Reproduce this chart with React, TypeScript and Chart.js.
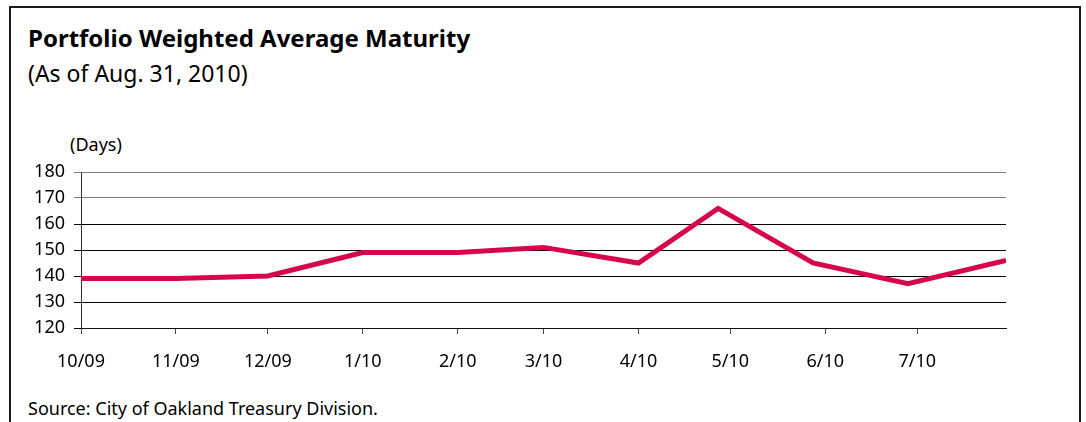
import React, { useEffect, useRef } from "react";
import { Chart, registerables } from "chart.js";

Chart.register(...registerables);

// ---- Data ----
const pointDates = [
  "2009-10-01", "2009-11-01", "2009-12-01", "2010-01-01", "2010-02-01", "2010-03-01",
  "2010-04-01", "2010-04-27", "2010-05-28", "2010-06-28", "2010-07-30",
];
const maturityDays = [139, 139, 140, 149, 149, 151, 145, 166, 145, 137, 146];
const tickDates = [
  "2009-10-01", "2009-11-01", "2009-12-01", "2010-01-01", "2010-02-01",
  "2010-03-01", "2010-04-01", "2010-05-01", "2010-06-01", "2010-07-01",
];
const tickLabels = ["10/09", "11/09", "12/09", "1/10", "2/10", "3/10", "4/10", "5/10", "6/10", "7/10"];
const yMin = 120;
const yMax = 180;
const yStep = 10;

const FONT = '"Noto Sans", sans-serif';
const LINE_COLOR = "#D5064B";

const dayIndex = (s: string) =>
  Math.round((Date.parse(s) - Date.parse(pointDates[0])) / 86400000);

export default function App() {
  const canvasRef = useRef<HTMLCanvasElement | null>(null);

  useEffect(() => {
    if (!canvasRef.current) return;
    const tickValues = tickDates.map(dayIndex);
    const chart = new Chart(canvasRef.current, {
      type: "line",
      data: {
        datasets: [
          {
            data: pointDates.map((d, i) => ({ x: dayIndex(d), y: maturityDays[i] })),
            borderColor: LINE_COLOR,
            backgroundColor: LINE_COLOR,
            borderWidth: 5,
            pointRadius: 0,
            tension: 0,
            borderJoinStyle: "miter",
            fill: false,
          },
        ],
      },
      options: {
        responsive: false,
        animation: false,
        devicePixelRatio: 1,
        layout: { padding: { top: 22, right: 80, left: 0, bottom: 0 } },
        plugins: {
          legend: { display: false },
          tooltip: { enabled: false },
          title: { display: false },
        },
        scales: {
          x: {
            type: "linear",
            min: 0,
            max: dayIndex(pointDates[pointDates.length - 1]),
            afterBuildTicks: (s: any) => {
              s.ticks = tickValues.map((v) => ({ value: v }));
            },
            afterFit: (s: any) => {
              s.height = 40;
            },
            grid: { drawOnChartArea: false, drawTicks: true, tickLength: 6, color: "#444" },
            border: { display: true, color: "#111" },
            ticks: {
              autoSkip: false,
              maxRotation: 0,
              minRotation: 0,
              padding: 17,
              color: "#000",
              font: { family: FONT, size: 18 },
              callback: (v: any) => {
                const i = tickValues.indexOf(Number(v));
                return i >= 0 ? tickLabels[i] : "";
              },
            },
          },
          y: {
            min: yMin,
            max: yMax,
            afterFit: (s: any) => {
              s.width = 81;
            },
            grid: {
              color: (ctx: any) => (ctx.tick && ctx.tick.value >= 170 ? "#808080" : "#000"),
              tickLength: 7,
            },
            border: { display: true, color: "#333" },
            ticks: {
              stepSize: yStep,
              padding: 9,
              color: "#000",
              font: { family: FONT, size: 18 },
            },
          },
        },
      },
    } as any);
    return () => chart.destroy();
  }, []);

  const text = (style: React.CSSProperties): React.CSSProperties => ({
    position: "absolute",
    fontFamily: FONT,
    color: "#000",
    lineHeight: 1,
    whiteSpace: "nowrap",
    margin: 0,
    ...style,
  });

  return (
    <div
      style={{
        position: "fixed",
        left: 0,
        top: 0,
        width: 1086,
        height: 422,
        background: "#fff",
        overflow: "hidden",
      }}
    >
      <div
        style={{
          position: "absolute",
          left: 9,
          top: 6,
          width: 1072,
          height: 440,
          boxSizing: "border-box",
          border: "2px solid #1a1a1a",
        }}
      />
      <div style={text({ left: 28, top: 26, fontSize: 24, fontWeight: 700 })}>
        Portfolio Weighted Average Maturity
      </div>
      <div style={text({ left: 28, top: 62, fontSize: 23 })}>(As of Aug. 31, 2010)</div>
      <div style={text({ left: 70, top: 135, fontSize: 18 })}>(Days)</div>
      <canvas
        ref={canvasRef}
        width={1086}
        height={218}
        style={{ position: "absolute", left: 0, top: 150, width: 1086, height: 218 }}
      />
      <div style={text({ left: 28, top: 399, fontSize: 18 })}>
        Source: City of Oakland Treasury Division.
      </div>
    </div>
  );
}
